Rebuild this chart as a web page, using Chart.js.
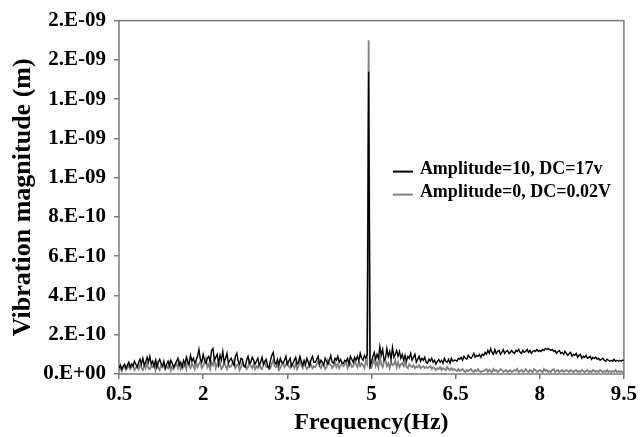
<!DOCTYPE html>
<html>
<head>
<meta charset="utf-8">
<script src="https://cdn.jsdelivr.net/npm/chart.js@4/dist/chart.umd.min.js"></script>
<style>
  html, body { margin: 0; padding: 0; background: #ffffff; }
  #wrap { width: 640px; height: 437px; }
</style>
</head>
<body>
<div id="wrap"><canvas id="c" width="640" height="437"></canvas></div>
<script>
// ---- Data (magnitudes in units of 1e-11 m) ----
const freqStart = 0.5;    // Hz, first sample
const freqStep = 0.025;   // Hz, sample spacing
const valueUnit = 1e-11;  // metres per data unit

const seriesNames = ['Amplitude=10, DC=17v', 'Amplitude=0, DC=0.02V'];

const amp10 = [
  3, 4.5, 2.5, 4, 5, 3, 4.5, 6, 3.5, 5, 4, 6.5, 5, 3.5, 6, 7.5, 5, 8, 4.5, 6,
  8.5, 6, 9, 5, 6.5, 4, 7, 3.5, 6, 7.5, 5.5, 4, 6.5, 3, 5, 6.5, 4, 7, 5.5, 3.5,
  5, 6.5, 8, 4.5, 6, 3.5, 7, 5, 8.5, 6, 5, 9.5, 6.5, 8, 5.5, 7, 9, 12.5, 7.5, 6,
  10, 7, 5.5, 8, 9, 6, 12, 13, 7, 8.5, 10, 5, 9.5, 7, 11.5, 6, 8, 10.5, 5.5, 7,
  8, 6, 4.5, 9, 10.5, 6.5, 5, 8, 7.5, 4, 3.5, 7, 9, 5.5, 6, 8.5, 7, 5, 6.5, 8,
  4.5, 6, 8.5, 5, 6.5, 7.5, 4, 3, 7, 9.5, 11, 6, 5, 7.5, 4.5, 8, 6, 5.5, 7, 9,
  5, 6.5, 8, 4, 5.5, 7, 8.5, 5, 6, 9, 6.5, 4.5, 7, 5, 8, 6, 4, 7.5, 9, 6,
  6, 7.5, 9, 5, 7, 6, 4.5, 8, 6.5, 5, 7, 9.5, 6, 5.5, 8, 7, 9, 6, 7.5, 5.5,
  5.5, 7, 6.5, 8, 5, 9, 7.5, 6, 8.5, 7, 9, 6.5, 10.5, 8, 7, 9.5, 8, 10, 154, 4,
  6, 9, 11, 7.5, 10, 8, 14, 9.5, 12.5, 7, 8, 13, 9, 11.5, 7.5, 13.5, 8.5, 10, 12, 9,
  11.5, 8, 10, 7, 9.5, 6.5, 9, 8, 10.5, 7, 8.5, 10, 6, 7.5, 9, 6.5, 8, 7, 8.5, 6,
  5.5, 7.5, 6.5, 8, 6, 7, 5, 6.5, 7.5, 6, 7, 5.5, 8, 6.5, 6, 7.5, 5.5, 8, 6.5, 7,
  7, 6.5, 8, 7.5, 8.5, 7, 9, 8, 7.5, 9.5, 8.5, 8, 9, 10.5, 8.5, 9.5, 9, 10, 8.5, 10,
  9.5, 11, 10, 12, 10.5, 13, 11, 10, 12.5, 10.5, 11.5, 12, 10, 11, 12.5, 10.5, 11.5, 12, 10.5, 11,
  12, 11, 10.5, 12, 11.5, 12.5, 11, 10.5, 12, 11, 11.5, 12.5, 11, 12, 10.5, 11.5, 12, 11.5, 12.5, 11.5,
  12, 11.5, 12.5, 12, 13, 12.5, 13, 12.5, 12, 12.5, 11.5, 12, 10.5, 11.5, 12, 10.5, 11, 10, 11.5, 10.5,
  9.5, 10.5, 11, 9, 10, 9.5, 10.5, 8.5, 9.5, 10, 8, 9, 8.5, 9.5, 8, 8.5, 9, 7.5, 8.5, 8,
  8.5, 7.5, 8, 7, 7.5, 8, 7, 6.5, 7.5, 7, 6.5, 7, 6.5, 7.5, 6.5, 7, 6.5, 7, 6.5, 7,
  7
];

const amp0 = [
  2, 3, 1.5, 3.5, 4, 2, 3, 4.5, 2.5, 3.5, 5, 2, 3, 4, 2.5, 5, 3, 2, 4.5, 3,
  5.5, 3, 2.5, 4, 3.5, 5, 2, 6, 3, 2, 4.5, 3.5, 5, 2.5, 4, 3, 5.5, 2, 4, 2.5,
  4, 5.5, 3, 6, 2.5, 4.5, 3.5, 5, 2.5, 7, 4, 3, 5.5, 4, 2.5, 6, 3.5, 5, 6.5, 3,
  4, 6, 8, 3.5, 5, 2.5, 6, 4.5, 7.5, 3, 5, 4, 5.5, 2.5, 3.5, 6, 4, 2.5, 5, 3.5,
  4, 5.5, 7, 3, 4.5, 5, 2, 3.5, 6, 4, 4.5, 2.5, 3.5, 6.5, 4, 3, 5, 2.5, 4, 3,
  5, 3, 2.5, 4.5, 6, 3.5, 4, 2.5, 3, 5.5, 7, 4, 3.5, 5, 2, 3, 4.5, 6, 3.5, 4.5,
  6, 4, 3, 5, 4.5, 3, 5.5, 2.5, 4, 7, 4.5, 3, 5.5, 4, 2.5, 3.5, 6, 4.5, 3, 4,
  3.5, 5, 6.5, 4, 3, 5, 4.5, 2.5, 3.5, 7, 5, 4.5, 3, 4, 6, 3.5, 5, 3, 4.5, 5,
  4, 5, 6.5, 3, 4.5, 5.5, 3.5, 4, 7, 5, 3.5, 6, 4, 5.5, 4.5, 3, 6.5, 5, 170, 3,
  3, 5.5, 7.5, 4, 6, 3.5, 8.5, 5, 3.5, 6.5, 7, 4, 5.5, 3, 6, 4.5, 5, 7, 3.5, 6,
  3.5, 5, 5.5, 4, 6.5, 3.5, 3, 5, 4, 3.5, 4.5, 3, 4, 3.5, 4.5, 3, 3.5, 4, 3, 3.5,
  3, 3.5, 4, 2.5, 3.5, 3, 2, 3, 2.5, 3.5, 2, 3, 2.5, 2, 3.5, 2.5, 2, 3, 2, 2.5,
  2, 1.5, 2.5, 1.5, 2, 2.5, 1.5, 1, 2, 1.5, 2, 2.5, 1.5, 1, 2, 1.5, 2.5, 1.5, 1, 1.5,
  1.5, 2, 2.5, 1, 2, 1.5, 1, 2.5, 1.5, 2, 1, 1.5, 2.5, 2, 1, 1.5, 2, 1, 1.5, 2,
  1, 1.5, 2, 1.5, 2.5, 1, 1.5, 2, 1, 1.5, 2.5, 1.5, 1, 2, 1.5, 1, 2.5, 2, 1, 1.5,
  2, 1.5, 1, 2.5, 1.5, 2, 1, 1.5, 1, 2, 2.5, 1, 1.5, 2, 1, 1.5, 2, 1, 1.5, 2,
  1.5, 1, 2, 1.5, 1, 1.5, 2, 1, 1.5, 1, 2, 1.5, 1, 1.5, 2, 1, 1.5, 1, 2, 1.5,
  1, 1.5, 1, 2, 1.5, 1, 1.5, 1, 2, 1, 1.5, 1, 1.5, 1, 2, 1, 1.5, 1, 1.5, 1,
  1
];

const xTickValues = [0.5, 2, 3.5, 5, 6.5, 8, 9.5];
const xTickLabels = ['0.5', '2', '3.5', '5', '6.5', '8', '9.5'];
const yTickValues = [0, 20, 40, 60, 80, 100, 120, 140, 160, 180];
const yTickLabels = ['0.E+00', '2.E-10', '4.E-10', '6.E-10', '8.E-10',
                     '1.E-09', '1.E-09', '1.E-09', '2.E-09', '2.E-09'];

// ---- Build chart ----
function toPoints(values) {
  return values.map((v, i) => ({ x: freqStart + i * freqStep, y: v }));
}

const FONT = "'Liberation Serif', 'Times New Roman', serif";
const AXIS_GRAY = '#7a7a7a';

const framePlugin = {
  id: 'frame',
  beforeDatasetsDraw(chart) {
    const a = chart.chartArea, ctx = chart.ctx;
    ctx.save();
    ctx.strokeStyle = AXIS_GRAY;
    ctx.lineWidth = 1.5;
    ctx.strokeRect(a.left, a.top, a.right - a.left, a.bottom - a.top);
    ctx.restore();
  }
};

const legendPlugin = {
  id: 'insideLegend',
  afterDraw(chart) {
    const a = chart.chartArea, ctx = chart.ctx;
    const x0 = a.right - 231;
    const rows = [a.top + 151, a.top + 174];
    ctx.save();
    chart.data.datasets.forEach((ds, i) => {
      const y = rows[i];
      ctx.strokeStyle = ds.borderColor;
      ctx.lineWidth = 2;
      ctx.beginPath();
      ctx.moveTo(x0, y);
      ctx.lineTo(x0 + 20, y);
      ctx.stroke();
      ctx.fillStyle = '#000';
      ctx.font = "bold 18px " + FONT;
      ctx.textBaseline = 'alphabetic';
      ctx.textAlign = 'left';
      ctx.fillText(ds.label, x0 + 27, y + 2.5);
    });
    ctx.restore();
  }
};

new Chart(document.getElementById('c'), {
  type: 'line',
  data: {
    datasets: [
      {
        label: seriesNames[0],
        data: toPoints(amp10),
        borderColor: '#000000',
        borderWidth: 1.4,
        pointRadius: 0,
        tension: 0,
        fill: false
      },
      {
        label: seriesNames[1],
        data: toPoints(amp0),
        borderColor: '#808080',
        borderWidth: 1.8,
        pointRadius: 0,
        tension: 0,
        fill: false
      }
    ]
  },
  options: {
    responsive: false,
    animation: false,
    devicePixelRatio: 1,
    layout: { padding: { top: 19, right: 16, left: 0, bottom: 0 } },
    plugins: {
      legend: { display: false },
      tooltip: { enabled: false }
    },
    scales: {
      x: {
        type: 'linear',
        min: 0.5,
        max: 9.5,
        afterBuildTicks(scale) { scale.ticks = xTickValues.map(v => ({ value: v })); },
        afterFit(scale) { scale.height = 63; },
        border: { display: false },
        grid: { drawOnChartArea: false, drawTicks: true, tickLength: 5, color: AXIS_GRAY, lineWidth: 1.5 },
        ticks: {
          autoSkip: false,
          maxRotation: 0,
          padding: 3,
          color: '#000',
          font: { family: FONT, size: 21, weight: 'bold' },
          callback: (v, i) => xTickLabels[i]
        },
        title: {
          display: true,
          text: 'Frequency(Hz)',
          color: '#000',
          padding: 0,
          font: { family: FONT, size: 24, weight: 'bold' }
        }
      },
      y: {
        type: 'linear',
        min: 0,
        max: 180,
        afterBuildTicks(scale) { scale.ticks = yTickValues.map(v => ({ value: v })); },
        afterFit(scale) { scale.width = 119; },
        border: { display: false },
        grid: { drawOnChartArea: false, drawTicks: true, tickLength: 5, color: AXIS_GRAY, lineWidth: 1.5 },
        ticks: {
          autoSkip: false,
          padding: 8,
          color: '#000',
          font: { family: FONT, size: 21, weight: 'bold' },
          callback: (v, i) => yTickLabels[i]
        },
        title: {
          display: true,
          text: 'Vibration magnitude (m)',
          color: '#000',
          padding: 8,
          font: { family: FONT, size: 26, weight: 'bold' }
        }
      }
    }
  },
  plugins: [framePlugin, legendPlugin]
});
</script>
</body>
</html>
